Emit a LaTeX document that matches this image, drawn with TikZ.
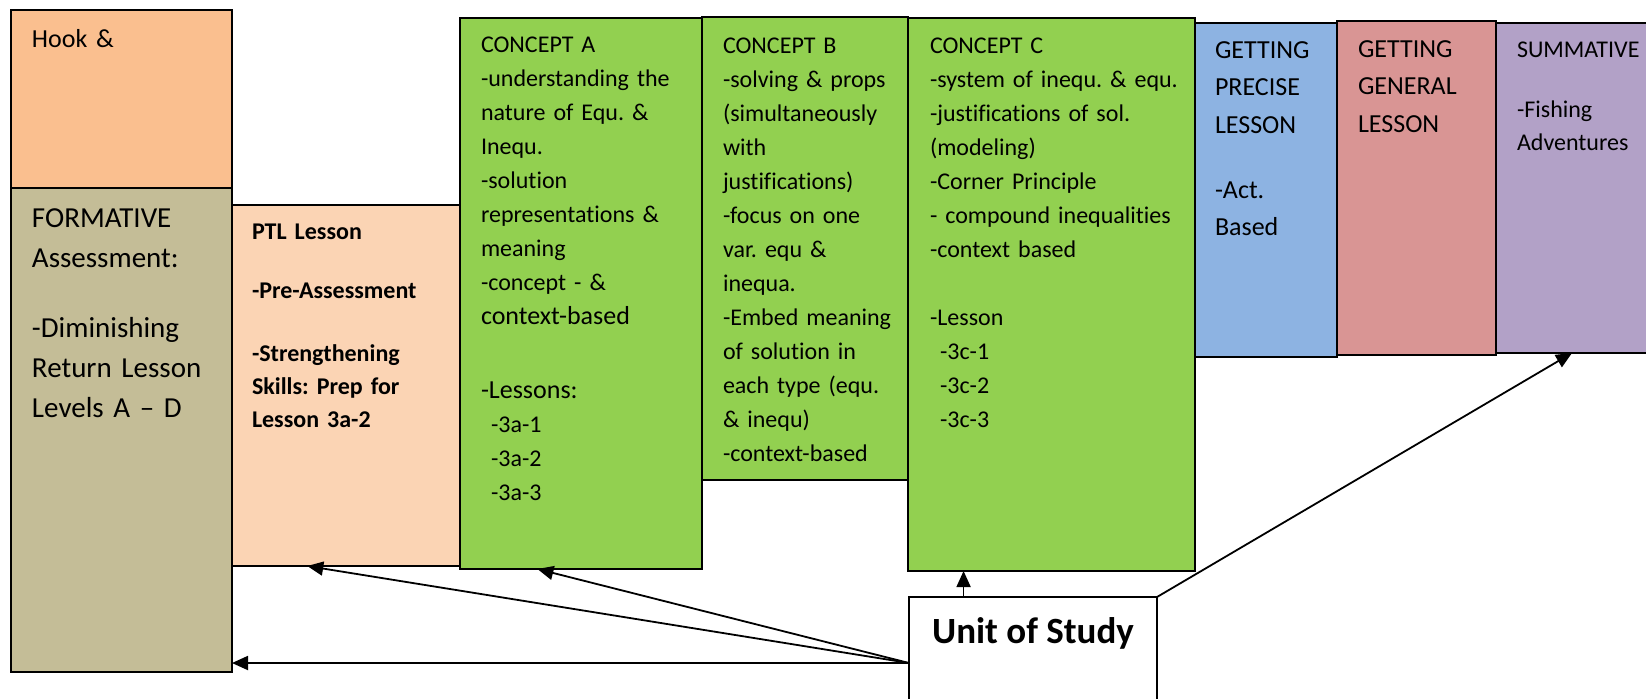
\documentclass[tikz,border=0pt]{standalone}
\usepackage{fontspec}
\setmainfont{Carlito}[Ligatures=CommonOff]
\usetikzlibrary{arrows.meta,calc}
\definecolor{hookc}{HTML}{FABF8F}
\definecolor{formc}{HTML}{C4BD97}
\definecolor{ptlc}{HTML}{FBD4B4}
\definecolor{greenc}{HTML}{92D050}
\definecolor{bluec}{HTML}{8DB3E2}
\definecolor{redc}{HTML}{D99594}
\definecolor{purplec}{HTML}{B2A1C7}
\newcommand\myfs[2]{\fontsize{#1}{#2}\selectfont}
\frenchspacing
\begin{document}
\begin{tikzpicture}[x=0.5pt,y=-0.5pt,
 panel/.style n args={2}{draw=black, line width=0.75pt, minimum width=#1*0.5pt, minimum height=#2*0.5pt, anchor=north west, inner sep=0pt, outer sep=0pt},
 txt/.style={anchor=base west, inner sep=0pt, outer sep=0pt, text width=150pt, align=left},
 link/.style={line width=0.9pt, -{Triangle[length=8pt,width=7pt]}}]
\useasboundingbox (0,0) rectangle (1646,698);
\clip (0,0) rectangle (1646,698);
% boxes
\node[panel={221}{178}, fill=hookc] (hook) at (11,10) {};
\node[panel={221}{484}, fill=formc] (form) at (11,188) {};
\node[panel={228}{361}, fill=ptlc] (ptl) at (232,205) {};
\node[panel={242}{551}, fill=greenc] (ca) at (460,18) {};
\node[panel={206}{463}, fill=greenc] (cb) at (702,17) {};
\node[panel={287}{553}, fill=greenc] (cc) at (908,18) {};
\node[panel={142}{334}, fill=bluec] (gp) at (1195,23) {};
\node[panel={159}{334}, fill=redc] (gg) at (1337,21) {};
\node[panel={160}{330}, fill=purplec] (sum) at (1496,23) {};
\node[panel={248}{132}, fill=white] (unit) at (909,597) {};
% texts
\node[txt, font=\myfs{13}{16}] (thook) at (32,47) {Hook \&};
\node[txt, font=\myfs{14.5}{20}] (tform) at (32,227) {FORMATIVE\\Assessment:\\[15pt]-Diminishing\\Return Lesson\\Levels A – D};
\node[txt, font=\bfseries\myfs{12}{16.5}] (tptl) at (252,239) {PTL Lesson\\[13pt]-Pre-Assessment\\[15pt]-Strengthening\\Skills: Prep for\\Lesson 3a-2};
\node[txt, font=\myfs{12}{17}] (tca) at (481,52) {CONCEPT A\\-understanding the\\nature of Equ. \&\\Inequ.\\-solution\\representations \&\\meaning\\-concept - \&\\{\myfs{13}{17}context-based}\\[20pt]{\myfs{13}{17}-Lessons:}\\\hspace*{5pt}-3a-1\\\hspace*{5pt}-3a-2\\\hspace*{5pt}-3a-3};
\node[txt, font=\myfs{12}{17}] (tcb) at (723,53) {CONCEPT B\\-solving \& props\\(simultaneously\\with\\justifications)\\-focus on one\\var. equ \&\\inequa.\\-Embed meaning\\of solution in\\each type (equ.\\\& inequ)\\-context-based};
\node[txt, font=\myfs{12}{17}] (tcc) at (930,53) {CONCEPT C\\-system of inequ. \& equ.\\-justifications of sol.\\(modeling)\\-Corner Principle\\- compound inequalities\\-context based\\[17pt]-Lesson\\\hspace*{5pt}-3c-1\\\hspace*{5pt}-3c-2\\\hspace*{5pt}-3c-3};
\node[txt, font=\myfs{13}{18.75}] (tgp) at (1215,58) {GETTING\\PRECISE\\LESSON\\[13.75pt]-Act.\\Based};
\node[txt, font=\myfs{13}{18.75}] (tgg) at (1358,57) {GETTING\\GENERAL\\LESSON};
\node[txt, font=\myfs{12}{16.5}] (tsum) at (1517,57) {SUMMATIVE\\[13.5pt]-Fishing\\Adventures};
\node[anchor=base, inner sep=0pt, font=\bfseries\myfs{18.5}{22}] (tunit) at (1033,643) {Unit of Study};
% connectors
\coordinate (ptltip) at ($(ptl.south west)!0.33!(ptl.south east)$);
\coordinate (catip) at ($(ca.south west)!0.32!(ca.south east)$);
\coordinate (ut) at ($(unit.north west)!0.22!(unit.north east)$);
\coordinate (sumtip) at ($(sum.south west)!0.475!(sum.south east)$);
\draw[link] (unit.west) -- (unit.west -| form.east);
\draw[link] (unit.west) -- (ptltip);
\draw[link] (unit.west) -- (catip);
\draw[link] (ut) -- (ut |- cc.south);
\draw[link] (unit.north east) -- (sumtip);
\end{tikzpicture}
\end{document}
